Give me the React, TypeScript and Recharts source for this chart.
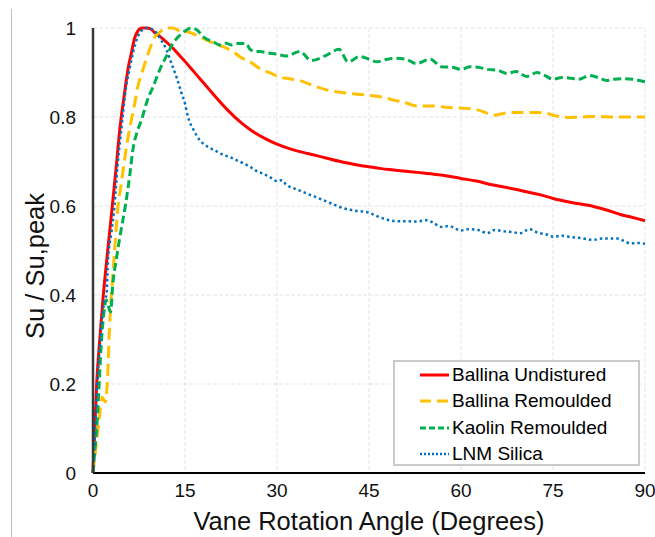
import React from 'react';
import { LineChart, Line, XAxis, YAxis, CartesianGrid } from 'recharts';

const xTicks = [0, 15, 30, 45, 60, 75, 90];
const yTicks = [0, 0.2, 0.4, 0.6, 0.8, 1];

const ballinaUndisturbedX = [0, 0.6, 1.1, 1.68, 2.4, 3.15, 3.8, 4.35, 4.85, 5.3, 5.8, 6.25, 6.8, 7.3, 8, 8.8, 9.5, 10, 11, 12, 13, 14, 15, 16, 17, 18, 19, 20, 22, 24, 26, 28, 30, 32, 35, 38, 40, 42.5, 45, 47, 49, 51, 53.3, 56, 58, 60, 62.5, 65.3, 68, 70.7, 73, 75, 78, 81.6, 84, 86, 88, 90];
const ballinaUndisturbedY = [0, 0.2, 0.3, 0.4, 0.5, 0.6, 0.69, 0.77, 0.825, 0.87, 0.915, 0.943, 0.978, 0.993, 1, 1, 0.997, 0.99, 0.98, 0.968, 0.955, 0.94, 0.925, 0.909, 0.893, 0.877, 0.861, 0.845, 0.815, 0.789, 0.768, 0.752, 0.739, 0.729, 0.718, 0.708, 0.701, 0.694, 0.688, 0.684, 0.681, 0.678, 0.675, 0.671, 0.667, 0.662, 0.656, 0.647, 0.64, 0.632, 0.625, 0.617, 0.608, 0.599, 0.59, 0.581, 0.574, 0.567];

const ballinaRemouldedX = [0, 0.5, 1, 1.5, 2, 2.4, 2.7, 3, 3.42, 4.08, 4.6, 5.1, 5.6, 6.25, 6.8, 7.3, 8, 9, 10.1, 11, 12, 13, 14.2, 15.8, 17.4, 19, 21.2, 22.8, 24, 25.6, 27.2, 28.9, 30.6, 32, 33.7, 36, 38.1, 40, 41.9, 45, 47, 49, 51, 52.7, 55.4, 57.5, 60, 62.7, 64, 65.3, 67, 68.6, 70.5, 72.4, 74, 75, 77.4, 79.5, 82, 85, 88, 90];
const ballinaRemouldedY = [0, 0.06, 0.12, 0.17, 0.16, 0.22, 0.33, 0.4, 0.48, 0.6, 0.65, 0.7, 0.745, 0.793, 0.83, 0.868, 0.9, 0.943, 0.98, 0.992, 1, 1, 0.993, 0.99, 0.98, 0.97, 0.958, 0.947, 0.935, 0.924, 0.909, 0.899, 0.889, 0.886, 0.882, 0.87, 0.861, 0.856, 0.853, 0.849, 0.845, 0.838, 0.832, 0.825, 0.825, 0.822, 0.82, 0.816, 0.81, 0.804, 0.808, 0.81, 0.81, 0.81, 0.808, 0.804, 0.799, 0.8, 0.801, 0.8, 0.8, 0.8];

const kaolinRemouldedX = [0, 0.3, 0.7, 1, 1.3, 1.7, 2.17, 2.5, 2.88, 3.2, 3.8, 4.5, 5.27, 6, 6.5, 7.3, 7.9, 8.8, 9.8, 11, 12.2, 13, 13.9, 15, 16, 17, 18, 19, 19.6, 20.7, 21.7, 22.5, 23.5, 25, 25.6, 26.5, 27.2, 28.5, 30, 31.5, 33.7, 35.6, 38.1, 40.1, 41.6, 43.5, 45, 46.3, 48, 49.5, 51, 52.7, 55, 56.8, 58.5, 60, 61.5, 62.8, 64.3, 66, 67.5, 69, 70.7, 72.4, 73.7, 75, 76.5, 78, 79.2, 81, 82.5, 83.7, 85, 86.5, 88.4, 90];
const kaolinRemouldedY = [0, 0.05, 0.12, 0.2, 0.28, 0.35, 0.389, 0.375, 0.362, 0.42, 0.48, 0.54, 0.6, 0.67, 0.726, 0.771, 0.793, 0.835, 0.868, 0.91, 0.943, 0.965, 0.98, 0.993, 1, 0.995, 0.98, 0.972, 0.969, 0.962, 0.966, 0.962, 0.965, 0.965, 0.952, 0.947, 0.947, 0.944, 0.941, 0.937, 0.947, 0.927, 0.939, 0.952, 0.924, 0.936, 0.93, 0.924, 0.93, 0.932, 0.93, 0.92, 0.93, 0.913, 0.912, 0.907, 0.913, 0.912, 0.907, 0.905, 0.898, 0.902, 0.891, 0.9, 0.893, 0.885, 0.889, 0.887, 0.885, 0.893, 0.888, 0.882, 0.885, 0.886, 0.884, 0.879];

const lnmSilicaX = [0, 0.35, 0.7, 1.2, 1.6, 1.9, 2.2, 2.45, 3, 3.5, 4, 4.6, 5.4, 6, 6.5, 7.3, 8, 8.7, 9.5, 10.3, 11.1, 12, 12.8, 13.6, 14.4, 15, 15.5, 16.4, 17.4, 18.2, 19.1, 20, 21.2, 22.3, 23.4, 24.5, 25.6, 26.5, 27.8, 28.7, 30, 30.8, 31.5, 32.7, 34, 35.4, 36.7, 38.1, 39.5, 40.8, 42.5, 45, 46.5, 48, 49.5, 50.7, 52.5, 54.5, 55.5, 56.8, 58, 60, 61.2, 62.8, 64.3, 65.5, 67, 68.5, 69.6, 71.2, 72.5, 74, 75, 76.5, 77.9, 79.5, 81.6, 83, 85.4, 86.5, 87.6, 89, 90];
const lnmSilicaY = [0, 0.1, 0.2, 0.3, 0.36, 0.39, 0.4, 0.48, 0.54, 0.6, 0.69, 0.77, 0.868, 0.91, 0.943, 0.98, 0.995, 1, 0.998, 0.99, 0.973, 0.95, 0.92, 0.89, 0.855, 0.83, 0.8, 0.771, 0.748, 0.738, 0.73, 0.724, 0.715, 0.71, 0.703, 0.696, 0.688, 0.68, 0.672, 0.666, 0.656, 0.658, 0.648, 0.64, 0.633, 0.625, 0.618, 0.61, 0.602, 0.595, 0.59, 0.585, 0.576, 0.569, 0.566, 0.566, 0.565, 0.568, 0.562, 0.553, 0.555, 0.545, 0.548, 0.546, 0.539, 0.546, 0.543, 0.541, 0.539, 0.548, 0.54, 0.536, 0.531, 0.533, 0.53, 0.528, 0.524, 0.527, 0.527, 0.522, 0.516, 0.517, 0.515];

const toPoints = (xs: number[], ys: number[]) => xs.map((x, i) => ({ x, y: ys[i] }));

const seriesList = [
  { name: 'Ballina Undistured', data: toPoints(ballinaUndisturbedX, ballinaUndisturbedY), color: '#FF0000', dash: undefined as string | undefined, width: 3, legendDash: undefined as string | undefined },
  { name: 'Ballina Remoulded', data: toPoints(ballinaRemouldedX, ballinaRemouldedY), color: '#FFC000', dash: '12 6', width: 3, legendDash: '11 6' },
  { name: 'Kaolin Remoulded', data: toPoints(kaolinRemouldedX, kaolinRemouldedY), color: '#00B050', dash: '8 4', width: 3, legendDash: '6 3' },
  { name: 'LNM Silica', data: toPoints(lnmSilicaX, lnmSilicaY), color: '#0070C0', dash: '2.5 3', width: 2.5, legendDash: '2 2' },
];

const FONT = 'Liberation Sans, Arial, sans-serif';

function LegendBox() {
  return (
    <div style={{ position: 'absolute', left: 393, top: 360, width: 243, height: 102, border: '2px solid #c9c9c9', background: '#fff', fontFamily: FONT }}>
      {seriesList.map((s, i) => (
        <div key={s.name} style={{ position: 'absolute', left: 25, top: 2 + i * 26.3, height: 22, display: 'flex', alignItems: 'center' }}>
          <svg width={29} height={6} style={{ display: 'block' }}>
            <line x1={0} y1={3} x2={29} y2={3} stroke={s.color} strokeWidth={s.width} strokeDasharray={s.legendDash} />
          </svg>
          <span style={{ marginLeft: 3, fontSize: 19, color: '#000', whiteSpace: 'nowrap' }}>{s.name}</span>
        </div>
      ))}
    </div>
  );
}

const YTitle = () => (
  <text x={35} y={266} transform="rotate(-90, 35, 266)" textAnchor="middle" dominantBaseline="central" fill="#111" fontSize={25.5} fontFamily={FONT}>
    Su / Su,peak
  </text>
);

const XTitle = () => (
  <text x={369} y={530} textAnchor="middle" fill="#111" fontSize={25.5} fontFamily={FONT}>
    Vane Rotation Angle (Degrees)
  </text>
);

export default function App() {
  return (
    <div style={{ position: 'absolute', left: 0, top: 0, width: 655, height: 537, background: '#fff' }}>
      <div style={{ position: 'absolute', left: 11, top: 9, width: 1, height: 528, background: '#c0c0c0' }} />
      <LineChart width={655} height={537} margin={{ top: 28, right: 10, left: 0, bottom: 0 }}>
        <CartesianGrid stroke="#e4e4e4" strokeDasharray="4 2" />
        <XAxis
          type="number"
          dataKey="x"
          domain={[0, 90]}
          ticks={xTicks}
          height={64}
          allowDuplicatedCategory={false}
          tickLine={false}
          tickSize={0}
          tickMargin={11}
          axisLine={{ stroke: '#000', strokeWidth: 2 }}
          tick={{ fill: '#111', fontSize: 19, fontFamily: FONT }}
          label={<XTitle />}
        />
        <YAxis
          type="number"
          domain={[0, 1]}
          ticks={yTicks}
          width={93}
          tickLine={false}
          tickSize={0}
          tickMargin={17}
          axisLine={{ stroke: '#3a3a3a', strokeWidth: 2.5 }}
          tick={{ fill: '#111', fontSize: 19, fontFamily: FONT }}
          tickFormatter={(v: number) => String(v)}
          label={<YTitle />}
        />
        {seriesList.map((s) => (
          <Line
            key={s.name}
            data={s.data}
            dataKey="y"
            name={s.name}
            type="monotone"
            stroke={s.color}
            strokeWidth={s.width}
            strokeDasharray={s.dash}
            dot={false}
            activeDot={false}
            isAnimationActive={false}
          />
        ))}
      </LineChart>
      <LegendBox />
    </div>
  );
}
